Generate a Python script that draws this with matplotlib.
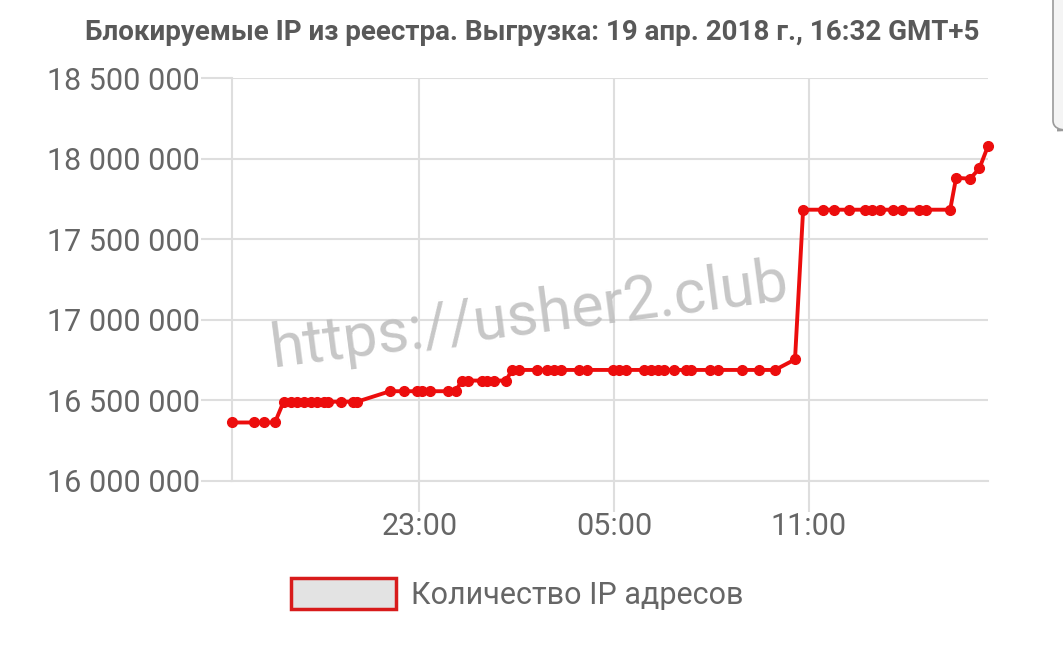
import matplotlib
matplotlib.use("Agg")
import matplotlib.pyplot as plt
import matplotlib.dates as mdates
from matplotlib.patches import FancyBboxPatch, Rectangle
from datetime import datetime

plt.rcParams['font.family'] = ['Roboto', 'DejaVu Sans']

title = "Блокируемые IP из реестра. Выгрузка: 19 апр. 2018 г., 16:32 GMT+5"
series_label = "Количество IP адресов"
watermark = "https://usher2.club"

times = [
    "2018-04-18 17:13", "2018-04-18 17:54", "2018-04-18 18:13", "2018-04-18 18:33",
    "2018-04-18 18:49", "2018-04-18 19:02", "2018-04-18 19:14", "2018-04-18 19:27",
    "2018-04-18 19:39", "2018-04-18 19:51", "2018-04-18 20:04", "2018-04-18 20:12",
    "2018-04-18 20:35", "2018-04-18 20:58", "2018-04-18 21:05",
    "2018-04-18 22:06", "2018-04-18 22:31", "2018-04-18 22:56", "2018-04-18 23:05",
    "2018-04-18 23:20", "2018-04-18 23:54", "2018-04-19 00:07",
    "2018-04-19 00:19", "2018-04-19 00:31", "2018-04-19 00:56", "2018-04-19 01:06",
    "2018-04-19 01:18", "2018-04-19 01:40",
    "2018-04-19 01:52", "2018-04-19 02:04", "2018-04-19 02:38", "2018-04-19 02:57",
    "2018-04-19 03:09", "2018-04-19 03:23", "2018-04-19 03:56", "2018-04-19 04:11",
    "2018-04-19 04:58", "2018-04-19 05:10", "2018-04-19 05:22", "2018-04-19 05:56",
    "2018-04-19 06:09", "2018-04-19 06:21", "2018-04-19 06:33", "2018-04-19 06:52",
    "2018-04-19 07:14", "2018-04-19 07:23", "2018-04-19 07:57", "2018-04-19 08:13",
    "2018-04-19 08:57", "2018-04-19 09:28", "2018-04-19 09:58",
    "2018-04-19 10:35",
    "2018-04-19 10:50", "2018-04-19 11:26", "2018-04-19 11:47", "2018-04-19 12:14",
    "2018-04-19 12:45", "2018-04-19 12:57", "2018-04-19 13:12", "2018-04-19 13:37",
    "2018-04-19 13:53", "2018-04-19 14:24", "2018-04-19 14:37", "2018-04-19 15:22",
    "2018-04-19 15:33", "2018-04-19 15:59", "2018-04-19 16:16", "2018-04-19 16:32",
]

ip_counts = [
    16363000, 16363000, 16363000, 16363000,
    16492000, 16492000, 16492000, 16492000,
    16492000, 16492000, 16492000, 16492000,
    16492000, 16492000, 16492000,
    16557000, 16557000, 16557000, 16557000,
    16557000, 16557000, 16557000,
    16623000, 16623000, 16623000, 16623000,
    16623000, 16623000,
    16689000, 16689000, 16689000, 16689000,
    16689000, 16689000, 16689000, 16689000,
    16689000, 16689000, 16689000, 16689000,
    16689000, 16689000, 16689000, 16689000,
    16689000, 16689000, 16689000, 16689000,
    16689000, 16689000, 16689000,
    16754000,
    17683000, 17683000, 17683000, 17683000,
    17683000, 17683000, 17683000, 17683000,
    17683000, 17683000, 17683000, 17683000,
    17881000, 17875000, 17939000, 18078000,
]

y_ticks = [16000000, 16500000, 17000000, 17500000, 18000000, 18500000]
x_ticks = ["2018-04-18 23:00", "2018-04-19 05:00", "2018-04-19 11:00"]

W, H = 1063, 652
fig = plt.figure(figsize=(W / 100, H / 100), dpi=100)
ax = fig.add_axes([231.7 / W, 1 - 481 / H, (988 - 231.7) / W, (481 - 78) / H])

xs = [mdates.date2num(datetime.strptime(t, "%Y-%m-%d %H:%M")) for t in times]
xt = [mdates.date2num(datetime.strptime(t, "%Y-%m-%d %H:%M")) for t in x_ticks]

red = "#ec0d0d"
ax.plot(xs, ip_counts, color=red, lw=2.8, marker="o", ms=7, mfc=red, mec=red,
        zorder=5, clip_on=False)

ax.set_xlim(xs[0], xs[-1])
ax.set_ylim(y_ticks[0], y_ticks[-1])
ax.set_yticks(y_ticks)
ax.set_yticklabels([f"{v:,}".replace(",", " ") for v in y_ticks])
ax.set_xticks(xt)
ax.set_xticklabels([t[-5:] for t in x_ticks])

grid_c = "#dedede"
ax.grid(True, color=grid_c, lw=1.5, zorder=0)
for s in ["top", "right"]:
    ax.spines[s].set_visible(False)
for s in ["left", "bottom"]:
    ax.spines[s].set_color(grid_c)
    ax.spines[s].set_linewidth(1.5)
ax.tick_params(axis="y", length=22, width=1.5, color=grid_c, labelsize=22,
               labelcolor="#666666", pad=1)
ax.tick_params(axis="x", length=22, width=1.5, color=grid_c, labelsize=22,
               labelcolor="#666666", pad=0)

fig.text(532 / W, 1 - 33 / H, title, ha="center", va="center", fontsize=20,
         fontweight="bold", color="#595959")

# watermark
fig.text(530 / W, 1 - 316 / H, watermark, ha="center", va="center", fontsize=44,
         color="#bdbdbd", rotation=7.5, alpha=0.85, zorder=10)

# legend
fig.patches.append(Rectangle((291 / W, 1 - 609 / H), 105 / W, 31 / H,
                             transform=fig.transFigure, facecolor="#e3e3e3",
                             edgecolor="#d81b1b", lw=2.5))
fig.text(411 / W, 1 - 595 / H, series_label, ha="left", va="center",
         fontsize=22, color="#666666")

# scrollbar at right edge
fig.patches.append(FancyBboxPatch((1053 / W, 0.80), 20 / W, 0.25,
                                  boxstyle="round,pad=0,rounding_size=0.015",
                                  transform=fig.transFigure, facecolor="#f4f4f4",
                                  edgecolor="#9a9a9a", lw=1.2))

fig.savefig("out.png", dpi=100, facecolor="white")
